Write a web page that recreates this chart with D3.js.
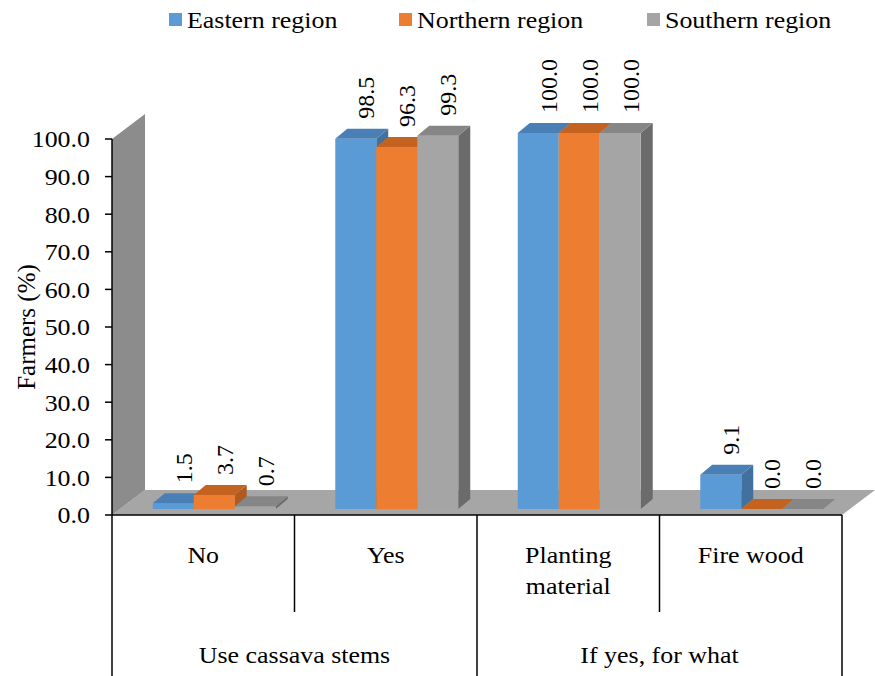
<!DOCTYPE html>
<html><head><meta charset="utf-8"><script src="https://cdn.jsdelivr.net/npm/d3@7"></script></head>
<body style="margin:0">
<svg id="chart" width="875" height="676"></svg>
<script>
// Chart data
const categories = ["No", "Yes", "Planting material", "Fire wood"];
const groups = [
  { label: "Use cassava stems", span: [0, 1] },
  { label: "If yes, for what", span: [2, 3] }
];
const seriesNames = ["Eastern region", "Northern region", "Southern region"];
const eastern  = [1.5, 98.5, 100.0, 9.1];
const northern = [3.7, 96.3, 100.0, 0.0];
const southern = [0.7, 99.3, 100.0, 0.0];
const yTicks = [0, 10, 20, 30, 40, 50, 60, 70, 80, 90, 100];

const seriesValues = [eastern, northern, southern];
const faceColors = [
  { front: "#5B9BD5", top: "#4A7FB6", side: "#41719C" },
  { front: "#ED7D31", top: "#C4631F", side: "#AE5A21" },
  { front: "#A5A5A5", top: "#868686", side: "#6B6B6B" }
];

const svg = d3.select("#chart");

// Text helper (default serif face); horizontal labels are slightly widened
function addText(x, y, str, opts) {
  const o = Object.assign({ anchor: "start", size: 24, rotate: 0, sx: 1 }, opts || {});
  const t = svg.append("text")
    .attr("x", 0).attr("y", 0)
    .attr("font-size", o.size)
    .attr("text-anchor", o.anchor)
    .attr("dy", "0.35em")
    .text(str);
  let tr = `translate(${x},${y})`;
  if (o.rotate) tr += ` rotate(${o.rotate})`;
  if (o.sx !== 1) tr += ` scale(${o.sx},1)`;
  t.attr("transform", tr);
  return t;
}

// Plot frame
const left = 112, right = 842, baseY = 515, topY = 139;
const depth = { dx: 33, dy: -25 };      // floor / wall depth
const barFront = { dx: 11, dy: -6 };    // bars stand slightly back on the floor
const barDepth = { dx: 12, dy: -10 };   // thickness of each bar

const y = d3.scaleLinear().domain([0, 100]).range([baseY, topY]);
const x = d3.scaleBand().domain(categories).range([left, right]);
const groupWidth = 123;
const xs = d3.scaleBand().domain(seriesNames).range([0, groupWidth]);

// Back wall and floor
const wall = [[left, baseY], [left, topY], [left + depth.dx, topY + depth.dy], [left + depth.dx, baseY + depth.dy]];
const floor = [[left, baseY], [right, baseY], [right + depth.dx, baseY + depth.dy], [left + depth.dx, baseY + depth.dy]];
const line = d3.line();
svg.append("path").attr("d", line(floor) + "Z").attr("fill", "#A6A6A6");
svg.append("path").attr("d", line(wall) + "Z").attr("fill", "#8C8C8C");

// Bars (drawn left to right so nearer faces overlap correctly)
const labelPos = [];
categories.forEach((cat, ci) => {
  const gx = x(cat) + (x.bandwidth() - groupWidth) / 2 + barFront.dx;
  seriesNames.forEach((s, si) => {
    const v = seriesValues[si][ci];
    const x0 = gx + xs(s), x1 = x0 + xs.bandwidth();
    const yb = y(0) + barFront.dy, yt = y(v) + barFront.dy;
    const c = faceColors[si];
    const dx = barDepth.dx, dy = barDepth.dy;
    svg.append("path").attr("fill", c.side)
      .attr("d", line([[x1, yb], [x1, yt], [x1 + dx, yt + dy], [x1 + dx, yb + dy]]) + "Z");
    svg.append("path").attr("fill", c.front)
      .attr("d", line([[x0, yb], [x1, yb], [x1, yt], [x0, yt]]) + "Z");
    svg.append("path").attr("fill", c.top)
      .attr("d", line([[x0, yt], [x1, yt], [x1 + dx, yt + dy], [x0 + dx, yt + dy]]) + "Z");
    labelPos.push({ x: (x0 + x1) / 2 + 10, y: yt - 20, v });
  });
});
// value labels
labelPos.forEach(p => addText(p.x, p.y, p.v.toFixed(1), { rotate: -90 }));

// Value axis
svg.append("line").attr("x1", left).attr("x2", left).attr("y1", topY).attr("y2", baseY)
  .attr("stroke", "#000").attr("stroke-width", 1.5);
yTicks.forEach(t => {
  svg.append("line").attr("x1", left - 7).attr("x2", left).attr("y1", y(t)).attr("y2", y(t))
    .attr("stroke", "#000").attr("stroke-width", 1.5);
  addText(left - 22, y(t), t.toFixed(1), { anchor: "end", sx: 1.08 });
});
addText(26, (topY + baseY) / 2, "Farmers (%)", { anchor: "middle", rotate: -90, size: 25 });

// Category axis: two-level table
svg.append("line").attr("x1", left).attr("x2", right).attr("y1", baseY).attr("y2", baseY)
  .attr("stroke", "#000").attr("stroke-width", 1.5);
const bounds = categories.map(c => x(c)).concat([right]);
bounds.forEach((bx, i) => {
  const outer = i === 0 || i === bounds.length - 1 || i === 2;
  svg.append("line").attr("x1", bx).attr("x2", bx).attr("y1", baseY).attr("y2", outer ? 676 : 612)
    .attr("stroke", "#000").attr("stroke-width", 1.5);
});
categories.forEach(c => {
  const words = c === "Planting material" ? ["Planting", "material"] : [c];
  words.forEach((w, i) => {
    addText(x(c) + x.bandwidth() / 2, 555 + i * 31, w, { anchor: "middle", sx: 1.08 });
  });
});
groups.forEach(g => {
  const gx0 = x(categories[g.span[0]]), gx1 = x(categories[g.span[1]]) + x.bandwidth();
  addText((gx0 + gx1) / 2, 655, g.label, { anchor: "middle", sx: 1.08 });
});

// Legend
const legendX = [169, 399, 647];
seriesNames.forEach((s, i) => {
  svg.append("rect").attr("x", legendX[i]).attr("y", 13).attr("width", 13).attr("height", 13)
    .attr("fill", faceColors[i].front);
  addText(legendX[i] + 18, 20, s, { sx: 1.08 });
});
</script>
</body></html>
